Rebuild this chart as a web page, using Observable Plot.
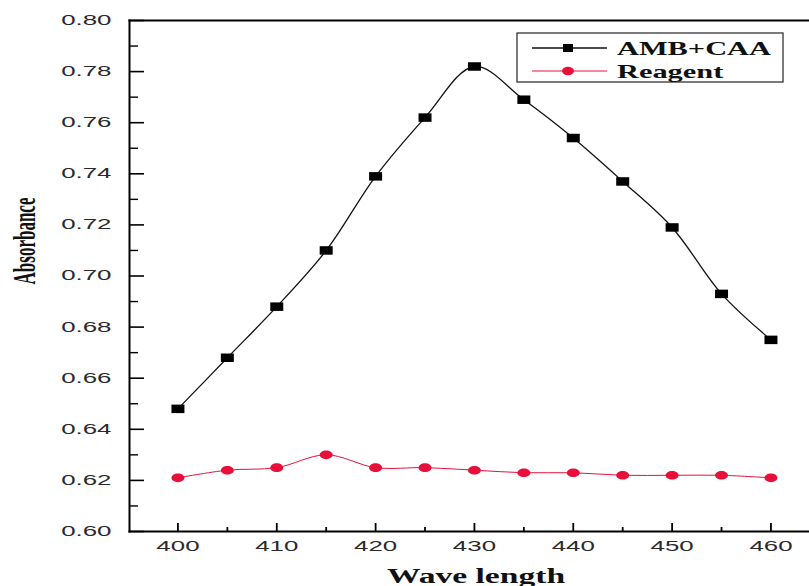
<!DOCTYPE html>
<html>
<head>
<meta charset="utf-8">
<script src="https://cdn.jsdelivr.net/npm/d3@7"></script>
<script src="https://cdn.jsdelivr.net/npm/@observablehq/plot@0.6"></script>
<style>
  html, body { margin: 0; padding: 0; background: #fff; overflow: hidden; }
  #chart svg { display: block; }
</style>
</head>
<body>
<div id="chart"></div>
<script>
// ---- data ----
const wavelength = [400, 405, 410, 415, 420, 425, 430, 435, 440, 445, 450, 455, 460];
const ambCaa  = [0.648, 0.668, 0.688, 0.710, 0.739, 0.762, 0.782, 0.769, 0.754, 0.737, 0.719, 0.693, 0.675];
const reagent = [0.621, 0.624, 0.625, 0.630, 0.625, 0.625, 0.624, 0.623, 0.623, 0.622, 0.622, 0.622, 0.621];
const seriesNames = ["AMB+CAA", "Reagent"];
const xMajorTicks = [400, 410, 420, 430, 440, 450, 460];
const xMinorTicks = [405, 415, 425, 435, 445, 455];
const yMajorTicks = [0.60, 0.62, 0.64, 0.66, 0.68, 0.70, 0.72, 0.74, 0.76, 0.78, 0.80];
const yMinorTicks = [0.61, 0.63, 0.65, 0.67, 0.69, 0.71, 0.73, 0.75, 0.77, 0.79];
const xTitle = "Wave length";
const yTitle = "Absorbance";

const blackColor = "#111";
const redColor = "#e8103a";

const seriesA = wavelength.map((w, i) => ({x: w, y: ambCaa[i]}));
const seriesB = wavelength.map((w, i) => ({x: w, y: reagent[i]}));

// custom marker symbols (wide rectangles / ellipses as in the reference)
function rectSymbol(w, h) {
  return {draw(ctx) { ctx.rect(-w / 2, -h / 2, w, h); }};
}
function ellipseSymbol(rx, ry) {
  const k = 0.5523;
  return {draw(ctx) {
    ctx.moveTo(rx, 0);
    ctx.bezierCurveTo(rx, ry * k, rx * k, ry, 0, ry);
    ctx.bezierCurveTo(-rx * k, ry, -rx, ry * k, -rx, 0);
    ctx.bezierCurveTo(-rx, -ry * k, -rx * k, -ry, 0, -ry);
    ctx.bezierCurveTo(rx * k, -ry, rx, -ry * k, rx, 0);
    ctx.closePath();
  }};
}

const W = 809, H = 586;
const mL = 129, mR = 0, mT = 20, mB = 55;
const plotW = W - mL - mR, plotH = H - mT - mB;

const plot = Plot.plot({
  width: W,
  height: H,
  marginLeft: mL,
  marginRight: mR,
  marginTop: mT,
  marginBottom: mB,
  style: {fontSize: "14px", fontFamily: "'Liberation Sans', Arial, sans-serif", color: "#222", background: "#fff", overflow: "visible"},
  x: {domain: [395.1, 463.9]},
  y: {domain: [0.60, 0.80]},
  marks: [
    // inward ticks
    Plot.tickY(yMajorTicks, {y: d => d, insetRight: plotW - 15, stroke: "#000", strokeWidth: 1.6}),
    Plot.tickY(yMinorTicks, {y: d => d, insetRight: plotW - 9, stroke: "#000", strokeWidth: 1.4}),
    Plot.tickX(xMajorTicks, {x: d => d, insetTop: plotH - 8, stroke: "#000", strokeWidth: 1.8}),
    Plot.tickX(xMinorTicks, {x: d => d, insetTop: plotH - 4, stroke: "#000", strokeWidth: 1.8}),
    // axis frame (left, bottom, top)
    Plot.frame({anchor: "left", stroke: "#000", strokeWidth: 2}),
    Plot.frame({anchor: "bottom", stroke: "#000", strokeWidth: 2}),
    Plot.frame({anchor: "top", stroke: "#000", strokeWidth: 2}),
    // tick labels
    Plot.axisY({ticks: yMajorTicks, tickSize: 0, tickPadding: 18, tickFormat: d3.format(".2f"), label: null, fill: "#2a2a2a"}),
    Plot.axisX({ticks: xMajorTicks, tickSize: 0, tickPadding: 10, tickFormat: d => String(d), label: null, fill: "#2a2a2a"}),
    // series
    Plot.line(seriesB, {x: "x", y: "y", curve: "catmull-rom", stroke: redColor, strokeWidth: 1}),
    Plot.dot(seriesB, {x: "x", y: "y", symbol: ellipseSymbol(6.5, 4.3), fill: redColor, stroke: "none"}),
    Plot.line(seriesA, {x: "x", y: "y", curve: "catmull-rom", stroke: blackColor, strokeWidth: 1.3}),
    Plot.dot(seriesA, {x: "x", y: "y", symbol: rectSymbol(13, 8.5), fill: "#000", stroke: "none"})
  ]
});

document.getElementById("chart").appendChild(plot);
const svg = d3.select(plot);

// stretch tick labels horizontally like the reference
svg.selectAll('g[aria-label="y-axis tick label"] text').each(function() {
  const t = this.getAttribute("transform") || "";
  this.setAttribute("transform", t + " scale(1.85,1)");
});
svg.selectAll('g[aria-label="x-axis tick label"] text').each(function() {
  const t = this.getAttribute("transform") || "";
  this.setAttribute("transform", t + " scale(1.85,1)");
});

// axis titles
svg.append("text")
  .attr("transform", "translate(476,583) scale(1.68,1)")
  .attr("text-anchor", "middle")
  .style("font-family", "'Liberation Serif', 'Times New Roman', serif")
  .style("font-weight", "bold")
  .style("font-size", "20px")
  .attr("fill", "#111")
  .text(xTitle);

svg.append("text")
  .attr("transform", "translate(35,241) rotate(-90) scale(1,1.85)")
  .attr("text-anchor", "middle")
  .style("font-family", "'Liberation Serif', 'Times New Roman', serif")
  .style("font-weight", "bold")
  .style("font-size", "17px")
  .attr("fill", "#111")
  .text(yTitle);

// legend
const lg = svg.append("g").attr("text-anchor", "start");
lg.append("rect")
  .attr("x", 517).attr("y", 33).attr("width", 266).attr("height", 49)
  .attr("fill", "#fff").attr("stroke", "#222").attr("stroke-width", 1.2);
const legendItems = [
  {name: seriesNames[0], color: blackColor, mark: "rect", cy: 48, base: 55},
  {name: seriesNames[1], color: redColor, mark: "ellipse", cy: 71, base: 78}
];
legendItems.forEach(it => {
  lg.append("line").attr("x1", 532).attr("x2", 607).attr("y1", it.cy).attr("y2", it.cy)
    .attr("stroke", it.color).attr("stroke-width", it.mark === "rect" ? 1.3 : 1);
  if (it.mark === "rect") {
    lg.append("rect").attr("x", 563).attr("y", it.cy - 4).attr("width", 10).attr("height", 8).attr("fill", "#000");
  } else {
    lg.append("ellipse").attr("cx", 568).attr("cy", it.cy).attr("rx", 6).attr("ry", 4.2).attr("fill", redColor);
  }
  lg.append("text")
    .attr("text-anchor", "start")
    .attr("transform", `translate(617,${it.base}) scale(1.6,1)`)
    .style("font-family", "'Liberation Serif', 'Times New Roman', serif")
    .style("font-weight", "bold")
    .style("font-size", "19px")
    .attr("fill", "#111")
    .text(it.name);
});
</script>
</body>
</html>
